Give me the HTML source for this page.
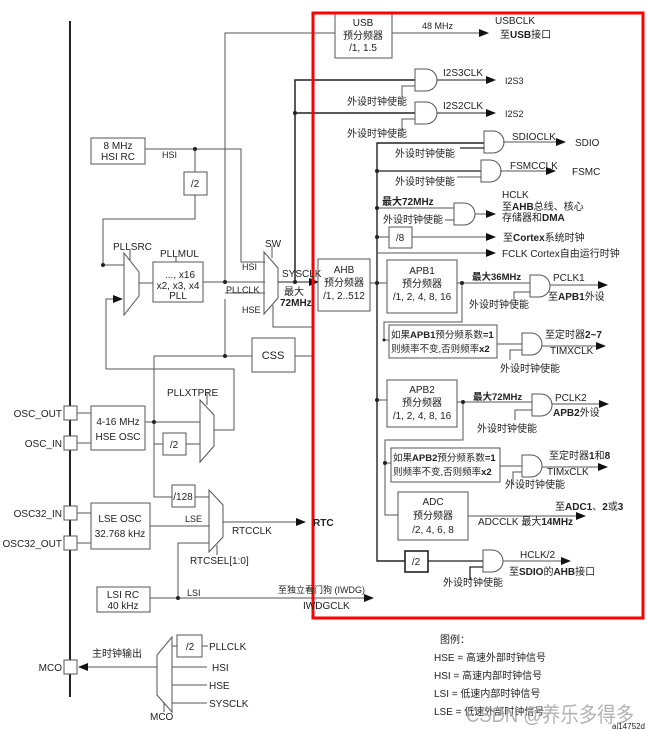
<!DOCTYPE html>
<html><head><meta charset="utf-8"><style>
html,body{margin:0;padding:0;background:#fff;}
svg{display:block;}
text{font-family:"Liberation Sans","Noto Sans CJK SC",sans-serif;font-size:10px;fill:#222;}
.b{font-weight:bold;}
.c{text-anchor:middle;}
.r{text-anchor:end;}
.s9{font-size:9px;}
.s95{font-size:9.5px;}
</style></head><body>
<svg width="650" height="730" viewBox="0 0 650 730" xmlns="http://www.w3.org/2000/svg">
<defs>
<marker id="a" markerWidth="10" markerHeight="8" refX="9" refY="4" orient="auto" markerUnits="userSpaceOnUse"><path d="M0,0 L10,4 L0,8 Z" fill="#111"/></marker>
</defs>
<g stroke="#555" stroke-width="1" fill="none">
<line x1="70" y1="21" x2="70" y2="697" stroke="#222" stroke-width="2"/>
<rect x="64" y="406" width="13" height="14" fill="#fff"/>
<rect x="64" y="436" width="13" height="14" fill="#fff"/>
<rect x="64" y="506" width="13" height="14" fill="#fff"/>
<rect x="64" y="536" width="13" height="14" fill="#fff"/>
<rect x="64" y="660" width="13" height="14" fill="#fff"/>
<line x1="77" y1="413" x2="91" y2="413"/><line x1="77" y1="443" x2="91" y2="443"/>
<line x1="77" y1="513" x2="91" y2="513"/><line x1="77" y1="543" x2="91" y2="543"/>
<rect x="91" y="138" width="54" height="26"/>
<polyline points="145,149 241,149 241,262 265,262"/>
<line x1="195" y1="149" x2="195" y2="172"/>
<rect x="184" y="172" width="23" height="23"/>
<polyline points="195,195 195,219 103,219 103,265 124,265"/>
<polygon points="124,253 139,272 139,296 124,315"/>
<line x1="130" y1="250" x2="130" y2="260"/>
<polyline points="106,369 106,299 122,299" marker-end="url(#a)"/>
<line x1="139" y1="283" x2="153" y2="283"/>
<rect x="153" y="262" width="50" height="40"/>
<line x1="176" y1="257" x2="176" y2="262"/>
<line x1="203" y1="282" x2="265" y2="282"/>
<polyline points="225,282 225,33 335,33"/>
<polyline points="225,299 225,356"/>
<line x1="225" y1="293" x2="265" y2="293"/>
<polygon points="264,252 278,268 278,298 264,314"/>
<line x1="272" y1="246" x2="272" y2="258"/>
<line x1="278" y1="282" x2="318" y2="282" marker-end="url(#a)" stroke="#222"/>
<polyline points="273,305 273,327 312,327"/>
<rect x="252" y="338" width="43" height="34"/>
<line x1="295" y1="356" x2="312" y2="356"/>
<line x1="154" y1="356" x2="252" y2="356"/>
<polyline points="295,282 295,80 415,80" stroke="#222" stroke-width="1.5"/>
<line x1="295" y1="113" x2="415" y2="113" stroke="#222" stroke-width="1.5"/>
<rect x="91" y="406" width="54" height="44"/>
<line x1="145" y1="422" x2="200" y2="422"/>
<polyline points="154,356 154,497 172,497"/>
<line x1="154" y1="444" x2="163" y2="444"/>
<rect x="163" y="433" width="23" height="22"/>
<line x1="186" y1="444" x2="200" y2="444"/>
<polygon points="200,400 214,415 214,446 200,462"/>
<line x1="207" y1="392" x2="207" y2="405"/>
<polyline points="214,430 234,430 234,369 106,369"/>
<rect x="172" y="485" width="23" height="22"/>
<line x1="195" y1="497" x2="209" y2="497"/>
<polygon points="209,490 223,505 223,537 209,552"/>
<line x1="217" y1="545" x2="217" y2="555"/>
<line x1="223" y1="522" x2="305" y2="522" marker-end="url(#a)"/>
<rect x="91" y="503" width="59" height="46"/>
<line x1="150" y1="526" x2="209" y2="526"/>
<polyline points="178,598 178,543 209,543"/>
<rect x="97" y="587" width="53" height="25"/>
<line x1="150" y1="598" x2="373" y2="598" marker-end="url(#a)"/>
<polygon points="172,637 172,712 157,695 157,655"/>
<line x1="164" y1="702" x2="164" y2="712"/>
<line x1="157" y1="667" x2="79" y2="667" marker-end="url(#a)"/>
<rect x="177" y="635" width="25" height="22"/>
<line x1="172" y1="646" x2="177" y2="646"/><line x1="202" y1="646" x2="208" y2="646"/>
<line x1="172" y1="667" x2="207" y2="667"/>
<line x1="172" y1="685" x2="207" y2="685"/>
<line x1="172" y1="703" x2="207" y2="703"/>
<rect x="335" y="12" width="57" height="46"/>
<line x1="392" y1="33" x2="488" y2="33" marker-end="url(#a)"/>
<path d="M415,69 h11 a11,11 0 0 1 0,22 h-11 Z"/>
<polyline points="402,97 402,86 415,86"/>
<line x1="437" y1="80" x2="495" y2="80" marker-end="url(#a)" stroke="#222"/>
<path d="M415,102 h11 a11,11 0 0 1 0,22 h-11 Z"/>
<polyline points="402,130 402,119 415,119"/>
<line x1="437" y1="113" x2="495" y2="113" marker-end="url(#a)" stroke="#222"/>
<polyline points="484,143 377,143 377,561 405,561" stroke="#222" stroke-width="1.4"/>
<line x1="370" y1="283" x2="387" y2="283"/>
<path d="M484,131 h9 a11,11 0 0 1 0,22 h-9 Z"/>
<line x1="460" y1="148" x2="484" y2="148" stroke="#222" stroke-width="1.3"/>
<line x1="503" y1="142" x2="565" y2="142" marker-end="url(#a)"/>
<line x1="377" y1="171" x2="481" y2="171" stroke="#222" stroke-width="1.3"/>
<path d="M481,160 h9 a11,11 0 0 1 0,22 h-9 Z"/>
<line x1="457" y1="177" x2="481" y2="177"/>
<line x1="500" y1="171" x2="555" y2="171" marker-end="url(#a)"/>
<line x1="377" y1="208" x2="454" y2="208"/>
<path d="M454,203 h10 a11,11 0 0 1 0,22 h-10 Z"/>
<line x1="445" y1="220" x2="454" y2="220"/>
<line x1="475" y1="214" x2="495" y2="214" marker-end="url(#a)"/>
<line x1="377" y1="237" x2="389" y2="237"/>
<rect x="389" y="227" width="23" height="21"/>
<line x1="412" y1="237" x2="495" y2="237" marker-end="url(#a)"/>
<line x1="377" y1="253" x2="495" y2="253" marker-end="url(#a)"/>
<rect x="318" y="259" width="52" height="52"/>
<rect x="387" y="260" width="70" height="53"/>
<line x1="457" y1="283" x2="530" y2="283"/>
<path d="M530,275 h9 a11,11 0 0 1 0,22 h-9 Z"/>
<polyline points="514,300 514,292 530,292"/>
<line x1="550" y1="285" x2="607" y2="285" marker-end="url(#a)"/>
<polyline points="462,283 462,322 384,322 384,340 389,340"/>
<rect x="389" y="325" width="108" height="33"/>
<line x1="497" y1="344" x2="522" y2="344"/>
<path d="M522,333 h9 a11,11 0 0 1 0,22 h-9 Z"/>
<polyline points="510,360 510,350 522,350"/>
<line x1="542" y1="346" x2="605" y2="346" marker-end="url(#a)"/>
<line x1="377" y1="400" x2="387" y2="400"/>
<rect x="387" y="380" width="70" height="47"/>
<line x1="457" y1="402" x2="532" y2="402"/>
<path d="M532,394 h9 a11,11 0 0 1 0,22 h-9 Z"/>
<polyline points="515,420 515,410 532,410"/>
<line x1="552" y1="404" x2="608" y2="404" marker-end="url(#a)"/>
<polyline points="463,402 463,440 385,440 385,515 398,515"/>
<line x1="385" y1="463" x2="391" y2="463"/>
<rect x="391" y="448" width="109" height="34"/>
<line x1="500" y1="466" x2="522" y2="466"/>
<path d="M522,455 h9 a11,11 0 0 1 0,22 h-9 Z"/>
<polyline points="513,485 513,472 522,472"/>
<line x1="542" y1="467" x2="607" y2="467" marker-end="url(#a)"/>
<rect x="398" y="492" width="70" height="48"/>
<line x1="468" y1="516" x2="585" y2="516" marker-end="url(#a)"/>
<rect x="405" y="551" width="23" height="21" stroke="#222" stroke-width="1.6"/>
<line x1="428" y1="561" x2="483" y2="561" stroke="#222" stroke-width="1.3"/>
<path d="M483,550 h9 a11,11 0 0 1 0,22 h-9 Z"/>
<polyline points="470,580 470,567 483,567" stroke="#222" stroke-width="1.3"/>
<line x1="503" y1="561" x2="570" y2="561" marker-end="url(#a)"/>
</g>
<g fill="#222">
<circle cx="195" cy="149" r="2"/><circle cx="103" cy="265" r="2"/><circle cx="225" cy="282" r="2"/>
<circle cx="225" cy="356" r="2"/><circle cx="295" cy="282" r="2"/><circle cx="295" cy="113" r="2"/>
<circle cx="154" cy="422" r="2"/><circle cx="178" cy="598" r="2"/><circle cx="377" cy="171" r="2"/>
<circle cx="377" cy="208" r="2"/><circle cx="377" cy="237" r="2"/><circle cx="377" cy="283" r="2"/>
<circle cx="377" cy="400" r="2"/><circle cx="462" cy="283" r="2"/><circle cx="463" cy="402" r="2"/>
<circle cx="385" cy="463" r="2"/><circle cx="384" cy="340" r="1.5"/>
</g>
<rect x="313" y="13" width="330" height="605" fill="none" stroke="#f00" stroke-width="3"/>
<text x="118" y="149" class="c">8 MHz</text><text x="118" y="160" class="c">HSI RC</text>
<text x="162" y="158" class="s9">HSI</text>
<text x="195" y="187" class="c">/2</text>
<text x="113" y="250">PLLSRC</text>
<text x="160" y="257">PLLMUL</text>
<text x="195" y="278" class="r">..., x16</text>
<text x="178" y="289" class="c">x2, x3, x4</text>
<text x="178" y="299" class="c">PLL</text>
<text x="242" y="270" class="s9">HSI</text>
<text x="226" y="293" class="s9">PLLCLK</text>
<text x="242" y="313" class="s9">HSE</text>
<text x="265" y="247">SW</text>
<text x="282" y="277">SYSCLK</text>
<text x="284" y="295">最大</text>
<text x="280" y="306" class="b">72MHz</text>
<text x="273" y="359" class="c" style="font-size:11px">CSS</text>
<text x="62" y="417" class="r">OSC_OUT</text>
<text x="62" y="447" class="r">OSC_IN</text>
<text x="62" y="517" class="r">OSC32_IN</text>
<text x="62" y="547" class="r">OSC32_OUT</text>
<text x="62" y="671" class="r">MCO</text>
<text x="118" y="425" class="c">4-16 MHz</text><text x="118" y="440" class="c">HSE OSC</text>
<text x="167" y="396">PLLXTPRE</text>
<text x="174" y="448" class="c">/2</text>
<text x="183" y="500" class="c">/128</text>
<text x="120" y="522" class="c">LSE OSC</text><text x="120" y="537" class="c">32.768 kHz</text>
<text x="185" y="522" class="s9">LSE</text>
<text x="232" y="534">RTCCLK</text>
<text x="313" y="526" class="b">RTC</text>
<text x="190" y="564">RTCSEL[1:0]</text>
<text x="123" y="598" class="c">LSI RC</text><text x="123" y="609" class="c">40 kHz</text>
<text x="187" y="596" class="s9">LSI</text>
<text x="278" y="593" class="s9">至独立看门狗 (IWDG)</text>
<text x="303" y="609">IWDGCLK</text>
<text x="92" y="657">主时钟输出</text>
<text x="190" y="650" class="c">/2</text>
<text x="209" y="650">PLLCLK</text>
<text x="212" y="671">HSI</text>
<text x="209" y="689">HSE</text>
<text x="209" y="707">SYSCLK</text>
<text x="150" y="720">MCO</text>
<text x="363" y="26" class="c">USB</text><text x="363" y="39" class="c">预分频器</text><text x="363" y="51" class="c">/1, 1.5</text>
<text x="422" y="29" class="s9">48 MHz</text>
<text x="495" y="24">USBCLK</text>
<text x="500" y="38">至<tspan class="b">USB</tspan>接口</text>
<text x="443" y="76">I2S3CLK</text><text x="505" y="84" class="s9">I2S3</text>
<text x="347" y="105">外设时钟使能</text>
<text x="443" y="109">I2S2CLK</text><text x="505" y="117" class="s9">I2S2</text>
<text x="347" y="137">外设时钟使能</text>
<text x="512" y="140">SDIOCLK</text><text x="575" y="146">SDIO</text>
<text x="395" y="157">外设时钟使能</text>
<text x="510" y="169">FSMCCLK</text><text x="572" y="175">FSMC</text>
<text x="395" y="185">外设时钟使能</text>
<text x="382" y="205" class="b">最大72MHz</text>
<text x="383" y="223">外设时钟使能</text>
<text x="502" y="198">HCLK</text>
<text x="502" y="210">至<tspan class="b">AHB</tspan>总线、核心</text>
<text x="502" y="221">存储器和<tspan class="b">DMA</tspan></text>
<text x="400" y="241" class="c">/8</text>
<text x="503" y="241">至<tspan class="b">Cortex</tspan>系统时钟</text>
<text x="502" y="257">FCLK Cortex自由运行时钟</text>
<text x="344" y="273" class="c">AHB</text><text x="344" y="286" class="c">预分频器</text><text x="344" y="299" class="c">/1, 2..512</text>
<text x="422" y="274" class="c">APB1</text><text x="422" y="287" class="c">预分频器</text><text x="422" y="300" class="c">/1, 2, 4, 8, 16</text>
<text x="472" y="280" class="b s95">最大36MHz</text>
<text x="553" y="281">PCLK1</text>
<text x="548" y="300">至<tspan class="b">APB1</tspan>外设</text>
<text x="469" y="308">外设时钟使能</text>
<text x="391" y="338" class="s95">如果<tspan class="b">APB1</tspan>预分频系数<tspan class="b">=1</tspan></text>
<text x="391" y="352" class="s95">则频率不变,否则频率<tspan class="b">x2</tspan></text>
<text x="545" y="338">至定时器<tspan class="b">2~7</tspan></text>
<text x="550" y="354">TIMXCLK</text>
<text x="500" y="372">外设时钟使能</text>
<text x="422" y="393" class="c">APB2</text><text x="422" y="406" class="c">预分频器</text><text x="422" y="419" class="c">/1, 2, 4, 8, 16</text>
<text x="473" y="400" class="b s95">最大72MHz</text>
<text x="555" y="401">PCLK2</text>
<text x="553" y="416"><tspan class="b">APB2</tspan>外设</text>
<text x="477" y="432">外设时钟使能</text>
<text x="393" y="461" class="s95">如果<tspan class="b">APB2</tspan>预分频系数<tspan class="b">=1</tspan></text>
<text x="393" y="475" class="s95">则频率不变,否则频率<tspan class="b">x2</tspan></text>
<text x="549" y="459">至定时器<tspan class="b">1</tspan>和<tspan class="b">8</tspan></text>
<text x="547" y="475">TIMxCLK</text>
<text x="505" y="488">外设时钟使能</text>
<text x="433" y="505" class="c">ADC</text><text x="433" y="519" class="c">预分频器</text><text x="433" y="533" class="c">/2, 4, 6, 8</text>
<text x="555" y="510">至<tspan class="b">ADC1</tspan>、<tspan class="b">2</tspan>或<tspan class="b">3</tspan></text>
<text x="478" y="525">ADCCLK 最大<tspan class="b">14MHz</tspan></text>
<text x="416" y="565" class="c">/2</text>
<text x="520" y="558">HCLK/2</text>
<text x="509" y="575">至<tspan class="b">SDIO</tspan>的<tspan class="b">AHB</tspan>接口</text>
<text x="443" y="586">外设时钟使能</text>
<text x="440" y="643">图例：</text>
<text x="434" y="661">HSE = 高速外部时钟信号</text>
<text x="434" y="679">HSI = 高速内部时钟信号</text>
<text x="434" y="697">LSI = 低速内部时钟信号</text>
<text x="434" y="715">LSE = 低速外部时钟信号</text>
<text x="466" y="722" style="font-size:21px;fill:#aaa;opacity:.9" textLength="168" lengthAdjust="spacingAndGlyphs">CSDN @养乐多得多</text>
<text x="612" y="729" style="font-size:8px">ai14752d</text>
</svg>
</body></html>
